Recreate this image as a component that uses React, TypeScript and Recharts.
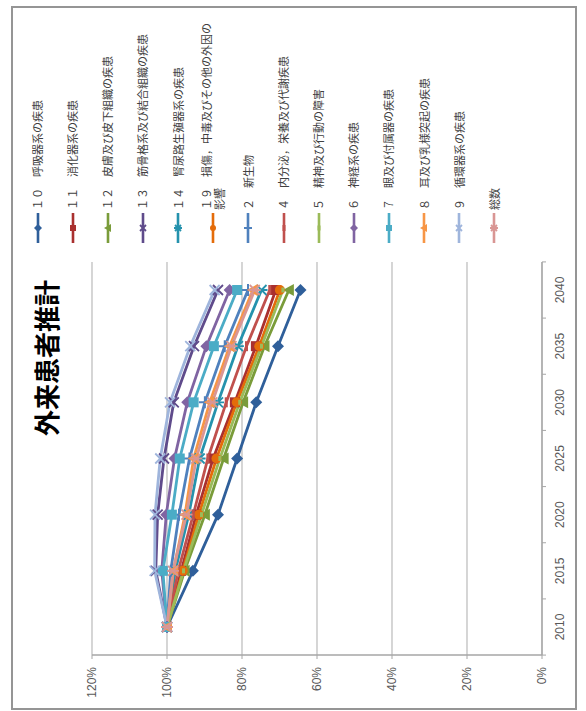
import React from 'react';
import { LineChart, Line, XAxis, YAxis, CartesianGrid, Legend } from 'recharts';

// outpatient projection, index 2010 = 100%
const YEARS = ['2010', '2015', '2020', '2025', '2030', '2035', '2040'];
const PCT_TICKS = [0, 20, 40, 60, 80, 100, 120];

const RESP = [100, 93.1, 86.4, 81.3, 76.2, 70.4, 64.4];
const DIGEST = [100, 96.2, 92.2, 87.7, 81.9, 76.3, 71.0];
const SKIN = [100, 95.3, 89.9, 84.9, 79.7, 74.0, 67.5];
const MUSCULO = [100, 103.0, 102.5, 100.8, 98.2, 92.8, 86.4];
const GENITO = [100, 97.8, 94.2, 91.3, 86.4, 81.1, 74.8];
const INJURY = [100, 95.8, 91.5, 86.8, 81.4, 75.4, 69.9];
const NEOPLASM = [100, 99.0, 96.8, 94.0, 89.9, 84.6, 78.4];
const ENDOCRINE = [100, 97.0, 93.0, 89.1, 84.2, 78.8, 72.6];
const MENTAL = [100, 95.6, 90.8, 85.9, 80.6, 74.8, 69.1];
const NERVOUS = [100, 101.4, 100.2, 98.0, 94.6, 89.5, 83.3];
const EYE = [100, 101.1, 98.7, 96.6, 92.9, 87.5, 81.3];
const EAR = [100, 98.3, 95.2, 92.9, 88.6, 83.3, 77.1];
const CIRC = [100, 103.3, 103.2, 101.8, 99.2, 93.8, 87.3];
const TOTAL = [100, 98.4, 94.8, 92.2, 87.9, 82.8, 76.6];

const NAMES = [
  '１０　呼吸器系の疾患',
  '１１　消化器系の疾患',
  '１２　皮膚及び皮下組織の疾患',
  '１３　筋骨格系及び結合組織の疾患',
  '１４　腎尿路生殖器系の疾患',
  '１９　損傷，中毒及びその他の外因の影響',
  '２　新生物',
  '４　内分泌，栄養及び代謝疾患',
  '５　精神及び行動の障害',
  '６　神経系の疾患',
  '７　眼及び付属器の疾患',
  '８　耳及び乳様突起の疾患',
  '９　循環器系の疾患',
  '総数',
];
const VALUES = [
  RESP, DIGEST, SKIN, MUSCULO, GENITO, INJURY, NEOPLASM,
  ENDOCRINE, MENTAL, NERVOUS, EYE, EAR, CIRC, TOTAL,
];
const COLORS = [
  '#2f5f9a', '#a9302f', '#7a9c3a', '#5f4b8b', '#2592ad', '#e46c0a', '#4f81bd',
  '#c0504d', '#9bbb59', '#8064a2', '#4bacc6', '#f79646', '#9fb5dc', '#d99694',
];
const MARKERS = [
  'diamond', 'square', 'triangle', 'x', 'star', 'circle', 'plus',
  'dash', 'dot', 'diamond', 'square', 'triangle', 'x', 'star',
];

const data = YEARS.map((year, i) => {
  const row: Record<string, string | number> = { year };
  VALUES.forEach((vals, s) => {
    row['s' + s] = vals[i];
  });
  return row;
});

const CHART_W = 700;
const CHART_H = 562;
const MARGIN = { top: 79, right: 254, bottom: 3, left: 3 };
const Y_AXIS_W = 50;
const X_AXIS_H = 30;
const X_PAD = 28;
const PLOT_W = CHART_W - MARGIN.left - MARGIN.right - Y_AXIS_W;
const PLOT_BOTTOM = CHART_H - MARGIN.bottom - X_AXIS_H;
const HALF_BAND = (PLOT_W - 2 * X_PAD) / (YEARS.length - 1) / 2;

const AXIS_GRAY = '#a6a6a6';
const LABEL_GRAY = '#595959';
const LATIN = '"Liberation Sans", Arial, sans-serif';
const CJK = '"Noto Sans CJK JP", sans-serif';

function Marker({ cx, cy, shape, color, size }: any) {
  if (cx == null || cy == null) return null;
  const r = size / 2;
  switch (shape) {
    case 'diamond':
      return (
        <polygon
          points={`${cx},${cy - r - 1} ${cx + r + 1},${cy} ${cx},${cy + r + 1} ${cx - r - 1},${cy}`}
          fill={color}
        />
      );
    case 'square':
      return <rect x={cx - r} y={cy - r} width={size} height={size} fill={color} />;
    case 'triangle':
      return (
        <polygon
          points={`${cx},${cy - r - 1} ${cx + r + 1},${cy + r} ${cx - r - 1},${cy + r}`}
          fill={color}
        />
      );
    case 'x':
      return (
        <path
          d={`M${cx - r},${cy - r}L${cx + r},${cy + r}M${cx - r},${cy + r}L${cx + r},${cy - r}`}
          stroke={color}
          strokeWidth={1.8}
        />
      );
    case 'star':
      return (
        <path
          d={`M${cx - r},${cy - r}L${cx + r},${cy + r}M${cx - r},${cy + r}L${cx + r},${cy - r}M${cx},${cy - r - 1}L${cx},${cy + r + 1}`}
          stroke={color}
          strokeWidth={1.8}
        />
      );
    case 'circle':
      return <circle cx={cx} cy={cy} r={r} fill={color} />;
    case 'plus':
      return (
        <path
          d={`M${cx - r - 1},${cy}L${cx + r + 1},${cy}M${cx},${cy - r - 1}L${cx},${cy + r + 1}`}
          stroke={color}
          strokeWidth={2}
        />
      );
    case 'dash':
      return <rect x={cx - r} y={cy - 1.5} width={size} height={3} fill={color} />;
    case 'dot':
      return <rect x={cx - 2.5} y={cy - 1.5} width={5} height={3} fill={color} />;
    default:
      return null;
  }
}

// year labels centred in their band, tick marks on the band edges
function YearTick({ x, y, payload, index }: any) {
  return (
    <g>
      <line x1={x - HALF_BAND} x2={x - HALF_BAND} y1={PLOT_BOTTOM} y2={PLOT_BOTTOM + 4} stroke={AXIS_GRAY} />
      {index === YEARS.length - 1 && (
        <line x1={x + HALF_BAND} x2={x + HALF_BAND} y1={PLOT_BOTTOM} y2={PLOT_BOTTOM + 4} stroke={AXIS_GRAY} />
      )}
      <text x={x} y={y} dy="0.71em" textAnchor="middle" fill={LABEL_GRAY} fontSize={12} fontFamily={LATIN}>
        {payload.value}
      </text>
    </g>
  );
}

function LegendBox() {
  return (
    <div style={{ fontFamily: CJK, fontSize: 11, color: '#404040' }}>
      {NAMES.map((name, i) => (
        <div key={name} style={{ height: 35.15, display: 'flex', alignItems: 'center' }}>
          <svg width={32} height={14} style={{ flex: 'none' }}>
            <line x1={0} x2={30} y1={7} y2={7} stroke={COLORS[i]} strokeWidth={2.6} />
            <Marker cx={15} cy={7} shape={MARKERS[i]} color={COLORS[i]} size={6} />
          </svg>
          <span style={{ width: 190, lineHeight: '13px', marginLeft: 1 }}>{name}</span>
        </div>
      ))}
    </div>
  );
}

export default function App() {
  return (
    <div
      style={{
        position: 'absolute',
        left: -58,
        top: 75,
        width: CHART_W + 4,
        height: CHART_H + 4,
        boxSizing: 'border-box',
        border: '2px solid #959595',
        background: '#fff',
        transform: 'rotate(-90deg)',
        transformOrigin: 'center center',
      }}
    >
      <div
        style={{
          position: 'absolute',
          top: 18,
          left: 0,
          width: CHART_W,
          height: 30,
          lineHeight: '30px',
          textAlign: 'center',
          fontFamily: CJK,
          fontWeight: 'bold',
          fontSize: 26,
          color: '#000',
          zIndex: 1,
        }}
      >
        外来患者推計
      </div>
      <LineChart width={CHART_W} height={CHART_H} data={data} margin={MARGIN}>
        <CartesianGrid vertical={false} stroke="#c4c4c4" strokeWidth={1.4} />
        <XAxis
          dataKey="year"
          padding={{ left: X_PAD, right: X_PAD }}
          height={X_AXIS_H}
          interval={0}
          tickSize={4}
          tickMargin={9}
          tickLine={false}
          axisLine={{ stroke: AXIS_GRAY, strokeWidth: 1.4 }}
          tick={<YearTick />}
        />
        <YAxis
          width={Y_AXIS_W}
          domain={[0, 120]}
          ticks={PCT_TICKS}
          interval={0}
          tickFormatter={(v) => `${v}%`}
          tickSize={4}
          tickMargin={8}
          axisLine={{ stroke: AXIS_GRAY, strokeWidth: 1.4 }}
          tickLine={{ stroke: AXIS_GRAY }}
          tick={{ fill: LABEL_GRAY, fontSize: 12, fontFamily: LATIN }}
        />
        <Legend
          layout="vertical"
          align="center"
          verticalAlign="middle"
          wrapperStyle={{ left: 465, top: 7, width: 235 }}
          content={() => <LegendBox />}
        />
        {NAMES.map((name, s) => (
          <Line
            key={name}
            type="linear"
            dataKey={'s' + s}
            name={name}
            stroke={COLORS[s]}
            strokeWidth={2.8}
            isAnimationActive={false}
            activeDot={false}
            dot={(p: any) => (
              <Marker key={`m${s}-${p.index}`} cx={p.cx} cy={p.cy} shape={MARKERS[s]} color={COLORS[s]} size={10} />
            )}
          />
        ))}
      </LineChart>
    </div>
  );
}
